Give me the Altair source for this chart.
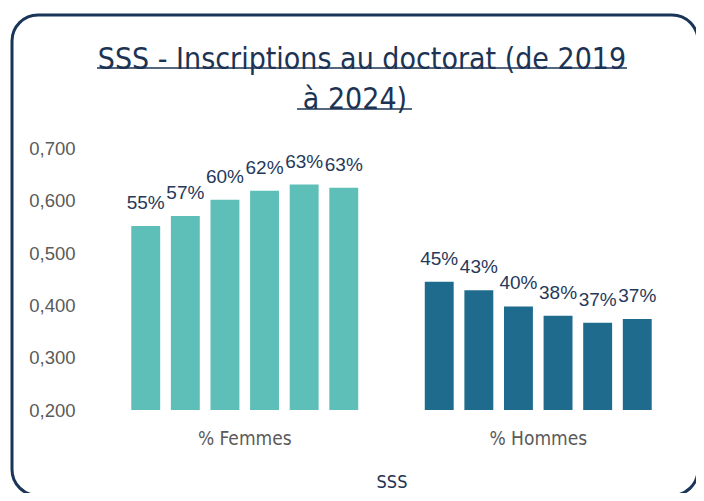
import altair as alt
import pandas as pd

# ---- data ----
groups = ["% Femmes", "% Hommes"]
years = ["2019", "2020", "2021", "2022", "2023", "2024"]
femmes = [0.552, 0.571, 0.602, 0.619, 0.631, 0.625]
hommes = [0.445, 0.429, 0.398, 0.380, 0.367, 0.374]
labels_femmes = ["55%", "57%", "60%", "62%", "63%", "63%"]
labels_hommes = ["45%", "43%", "40%", "38%", "37%", "37%"]
y_ticks = [0.2, 0.3, 0.4, 0.5, 0.6, 0.7]
title_lines = ["SSS - Inscriptions au doctorat (de 2019", "à 2024)"]
x_title = "SSS"

rows = []
for g, vals, labs in [(groups[0], femmes, labels_femmes), (groups[1], hommes, labels_hommes)]:
    for yr, v, lab in zip(years, vals, labs):
        rows.append({"group": g, "year": yr, "value": v, "label": lab})
df = pd.DataFrame(rows)

TEAL = "#5ebfb8"
BLUE = "#1f6b8e"
NAVY = "#1d3354"
LABEL_COL = "#27395a"
AXIS_COL = "#5a5a5a"
NARROW = "'Liberation Sans Narrow', 'DejaVu Sans Condensed', 'Roboto Condensed', 'Liberation Sans', sans-serif"

W, H = 587, 261.5

x_enc = alt.X(
    "group:N",
    sort=groups,
    scale=alt.Scale(paddingInner=0, paddingOuter=0),
    axis=alt.Axis(
        title=x_title,
        labelAngle=0,
        domain=False,
        ticks=False,
        labelPadding=19,
        labelFontSize=19,
        labelFont=NARROW,
        labelColor=AXIS_COL,
        titleFont=NARROW,
        titleFontSize=18,
        titleFontWeight="normal",
        titleColor=NAVY,
        titlePadding=25,
    ),
)
xoff_enc = alt.XOffset("year:N", scale=alt.Scale(paddingInner=0.27, paddingOuter=0.84))
y_enc = alt.Y(
    "value:Q",
    scale=alt.Scale(domain=[0.2, 0.7], zero=False, nice=False),
    axis=alt.Axis(
        title=None,
        values=y_ticks,
        labelExpr="replace(format(datum.value, '.3f'), '.', ',')",
        domain=False,
        ticks=False,
        grid=False,
        labelPadding=23,
        labelFontSize=18.5,
        labelFont="Liberation Sans",
        labelColor=AXIS_COL,
    ),
)

base = alt.Chart(df)

bars = base.mark_bar().encode(
    x=x_enc,
    xOffset=xoff_enc,
    y=y_enc,
    y2=alt.datum(0.2),
    color=alt.Color("group:N", scale=alt.Scale(domain=groups, range=[TEAL, BLUE]), legend=None),
)

texts = base.mark_text(
    dy=-23, fontSize=19, font="Liberation Sans", color=LABEL_COL, baseline="middle"
).encode(
    x=x_enc,
    xOffset=xoff_enc,
    y=y_enc,
    text="label:N",
)

one = pd.DataFrame({"k": [0]})

title1 = alt.Chart(one).mark_text(
    font=NARROW, fontSize=30, color=NAVY, baseline="middle", align="center"
).encode(x=alt.value(264), y=alt.value(-89), text=alt.value(title_lines[0]))

title2 = alt.Chart(one).mark_text(
    font=NARROW, fontSize=30, color=NAVY, baseline="middle", align="center"
).encode(x=alt.value(257), y=alt.value(-49), text=alt.value(title_lines[1]))

ul1 = alt.Chart(one).mark_rule(color=NAVY, strokeWidth=1.5).encode(
    x=alt.value(-1), x2=alt.value(529), y=alt.value(-80.5)
)
ul2 = alt.Chart(one).mark_rule(color=NAVY, strokeWidth=1.5).encode(
    x=alt.value(199), x2=alt.value(314), y=alt.value(-39.5)
)

border = alt.Chart(one).mark_rect(
    fill="white", fillOpacity=0, stroke="#1b3558", strokeWidth=3, cornerRadius=26
).encode(x=alt.value(-86), x2=alt.value(600), y=alt.value(-133.5), y2=alt.value(347))

chart = alt.layer(border, bars, texts, title1, title2, ul1, ul2).properties(
    width=W,
    height=H,
    autosize=alt.AutoSizeParams(type="none"),
    padding={"left": 90, "top": 140.5, "right": 11, "bottom": 83},
    background="white",
).configure_view(stroke=None)

chart.save("out.html", embed_options={"renderer": "svg", "actions": False})
